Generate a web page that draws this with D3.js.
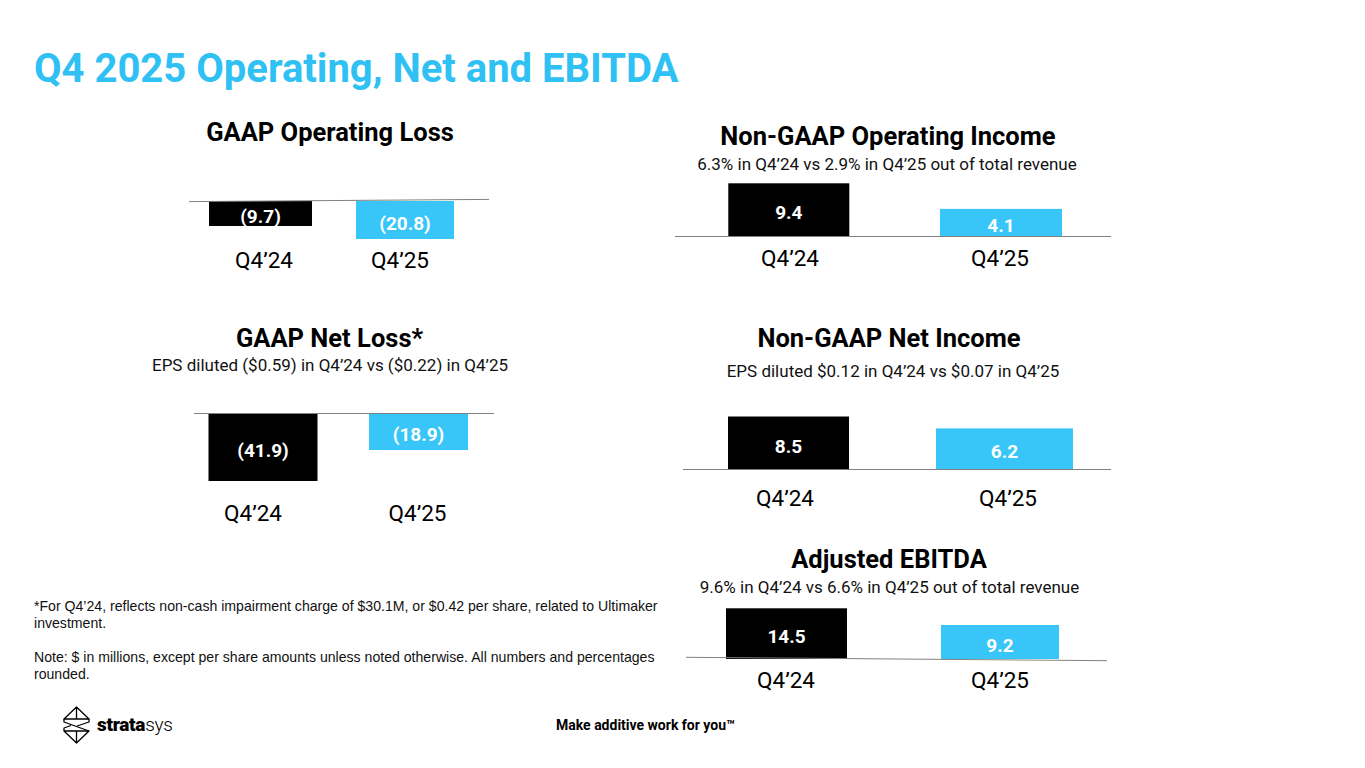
<!DOCTYPE html>
<html>
<head>
<meta charset="utf-8">
<script src="https://cdn.jsdelivr.net/npm/d3@7"></script>
<style>
  html, body { margin: 0; padding: 0; background: #fff; }
  svg { display: block; font-family: Roboto, "Noto Sans", sans-serif; }
</style>
</head>
<body>
<div class="playground"></div>
<script>
// chart values
var categories        = ["Q4’24", "Q4’25"];
var gaapOpLoss        = [-9.7, -20.8];
var nonGaapOpIncome   = [9.4, 4.1];
var gaapNetLoss       = [-41.9, -18.9];
var nonGaapNetIncome  = [8.5, 6.2];
var adjEbitda         = [14.5, 9.2];

var panelTitles = ["GAAP Operating Loss", "Non-GAAP Operating Income", "GAAP Net Loss*",
                   "Non-GAAP Net Income", "Adjusted EBITDA"];
var panelSubs   = [null,
                   "6.3% in Q4’24 vs 2.9% in Q4’25 out of total revenue",
                   "EPS diluted ($0.59) in Q4’24 vs ($0.22) in Q4’25",
                   "EPS diluted $0.12 in Q4’24 vs $0.07 in Q4’25",
                   "9.6% in Q4’24 vs 6.6% in Q4’25 out of total revenue"];

var footNotes = ["*For Q4’24, reflects non-cash impairment charge of $30.1M, or $0.42 per share, related to Ultimaker",
                 "investment.",
                 "",
                 "Note: $ in millions, except per share amounts unless noted otherwise. All numbers and percentages",
                 "rounded."];

var width  = 1365,
    height = 768;

var blue  = "#38c5f8",
    black = "#000000";

// layout of each small chart (positions only)
var panels = [
  { values: gaapOpLoss,       cx: [260.5, 405],  w: [103, 98],  base: 201, line: [189, 489, 201.6, 199.4],
    len: [13.6, 38],  titleX: 330, titleY: 141, subX: 330, subY: 0,   catX: [264, 400],   catY: 268 },
  { values: nonGaapOpIncome,  cx: [788.8, 1001], w: [121, 122], base: 236.5, line: [675, 1111, 236.5, 236.5],
    len: [7.8, 53.2], titleX: 888, titleY: 145, subX: 887, subY: 170, catX: [790, 1000],  catY: 266 },
  { values: gaapNetLoss,      cx: [263, 418.5],  w: [109, 99],  base: 413.5, line: [194, 494, 413.5, 413.5],
    len: [11, 67.5],  titleX: 329.5, titleY: 347, subX: 330, subY: 371, catX: [253, 417.5], catY: 521 },
  { values: nonGaapNetIncome, cx: [788.5, 1004.5], w: [121, 137], base: 469.5, line: [683, 1111, 469.5, 469.5],
    len: [9, 53],     titleX: 889, titleY: 346.5, subX: 893, subY: 377, catX: [785, 1008], catY: 506 },
  { values: adjEbitda,        cx: [786.5, 1000], w: [121, 118], base: 659, line: [686, 1107, 657.3, 660.7],
    len: [5, 50.7],   titleX: 889, titleY: 568, subX: 889.5, subY: 593, catX: [786, 1000],  catY: 688 }
];

var fmt = d3.format(".1f");

function valueText(v) {
  return v < 0 ? "(" + fmt(-v) + ")" : fmt(v);
}

var svg = d3.select(".playground")
            .append("svg")
            .attr("width", width)
            .attr("height", height);

// page title
svg.append("text")
   .attr("x", 34)
   .attr("y", 82)
   .attr("font-size", 40)
   .attr("font-weight", 700)
   .attr("fill", "#2fc1f3")
   .text("Q4 2025 Operating, Net and EBITDA");

panels.forEach(function (p, i) {
  var g = svg.append("g").attr("class", "panel");

  var x    = d3.scalePoint().domain(categories).range(p.cx);
  var xCat = d3.scalePoint().domain(categories).range(p.catX);
  var maxV = d3.max(p.values, function (v) { return Math.abs(v); });
  var len  = d3.scaleLinear().domain([0, maxV]).range(p.len);

  var rows = categories.map(function (c, j) { return { cat: c, v: p.values[j], w: p.w[j], j: j }; });

  g.append("text")
   .attr("x", p.titleX)
   .attr("y", p.titleY)
   .attr("text-anchor", "middle")
   .attr("font-size", 25.5)
   .attr("font-weight", 700)
   .attr("fill", "#000")
   .text(panelTitles[i]);

  if (panelSubs[i]) {
    g.append("text")
     .attr("x", p.subX)
     .attr("y", p.subY)
     .attr("text-anchor", "middle")
     .attr("font-size", 17)
     .attr("fill", "#111")
     .text(panelSubs[i]);
  }

  g.selectAll("rect")
   .data(rows)
   .enter()
   .append("rect")
   .attr("x", function (d) { return x(d.cat) - d.w / 2; })
   .attr("width", function (d) { return d.w; })
   .attr("y", function (d) { return d.v < 0 ? p.base : p.base - len(Math.abs(d.v)); })
   .attr("height", function (d) { return len(Math.abs(d.v)); })
   .attr("fill", function (d) { return d.j === 0 ? black : blue; });

  // baseline
  g.append("line")
   .attr("x1", p.line[0]).attr("x2", p.line[1])
   .attr("y1", p.line[2]).attr("y2", p.line[3])
   .attr("stroke", "#808080")
   .attr("stroke-width", 1);

  g.selectAll("text.val")
   .data(rows)
   .enter()
   .append("text")
   .attr("class", "val")
   .attr("x", function (d) { return x(d.cat); })
   .attr("y", function (d) {
     var l = len(Math.abs(d.v));
     var mid = d.v < 0 ? p.base + l / 2 : p.base - l / 2;
     return mid + 9.5;
   })
   .attr("text-anchor", "middle")
   .attr("font-size", 19)
   .attr("font-weight", 700)
   .attr("fill", "#fff")
   .text(function (d) { return valueText(d.v); });

  g.selectAll("text.cat")
   .data(rows)
   .enter()
   .append("text")
   .attr("class", "cat")
   .attr("x", function (d) { return xCat(d.cat); })
   .attr("y", p.catY)
   .attr("text-anchor", "middle")
   .attr("font-size", 22.5)
   .attr("fill", "#000")
   .text(function (d) { return d.cat; });
});

// footnotes
svg.append("g")
   .selectAll("text")
   .data(footNotes)
   .enter()
   .append("text")
   .attr("x", 34)
   .attr("y", function (d, i) { return 611 + i * 17; })
   .attr("font-family", "'Liberation Sans', Arial, sans-serif")
   .attr("font-size", 14.1)
   .attr("fill", "#111")
   .text(function (d) { return d; });

// footer tagline
svg.append("text")
   .attr("x", 556)
   .attr("y", 730)
   .attr("font-size", 14)
   .attr("font-weight", 700)
   .attr("fill", "#000")
   .text("Make additive work for you™");

// logo mark
var logo = svg.append("g")
              .attr("fill", "none")
              .attr("stroke", "#000")
              .attr("stroke-width", 1.3)
              .attr("stroke-linejoin", "round");

logo.append("path").attr("d", "M76.5,707 L64,719 L89,719 Z M76.5,707 L76.5,719");
logo.append("path").attr("d", "M64,719 L64,722 L89,731");
logo.append("path").attr("d", "M89,719 L89,722 L77,726");
logo.append("path").attr("d", "M64,731 L89,731 L76.5,743 Z M76.5,731 L76.5,743 M64,731 L64,728 L71,725.5");

var logoText = svg.append("text")
                  .attr("x", 97)
                  .attr("y", 731)
                  .attr("font-size", 19)
                  .attr("fill", "#000")
                  .attr("letter-spacing", -0.3);
logoText.append("tspan").attr("font-weight", 900).text("strata");
logoText.append("tspan").attr("font-weight", 300).text("sys");
</script>
</body>
</html>
